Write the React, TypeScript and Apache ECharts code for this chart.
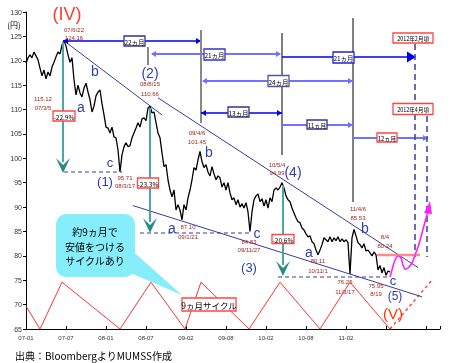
import React, { useEffect, useRef } from "react";
import * as echarts from "echarts";

// x axis: sample index (each tick = 20 samples); labels
const xTickLabels = ["07-01", "07-07", "08-01", "08-07", "09-02", "09-08", "10-02", "10-08", "11-02", "", ""];

const priceUSDJPY = [
  119.5, 120.6, 121.2, 120.6, 121.8, 121.0, 120.2, 118.5, 116.9, 118.1,
  116.3, 117.7, 116.9, 118.7, 119.7, 120.8, 121.8, 121.4, 123.2, 124.2,
  123.0, 121.2, 119.7, 120.6, 116.1, 113.0, 115.0, 113.4, 112.6, 114.4,
  115.4, 113.6, 112.0, 109.5, 110.7, 112.8, 113.6, 114.0, 111.2, 108.9,
  106.4, 106.2, 105.2, 106.4, 104.4, 104.2, 101.7, 97.2, 100.7, 102.4,
  103.2, 102.4, 102.6, 104.2, 105.2, 106.2, 107.3, 106.4, 108.1, 108.3,
  107.7, 110.3, 110.7, 109.3, 109.5, 107.3, 105.2, 104.2, 101.1, 98.3,
  98.7, 95.6, 93.5, 92.1, 93.5, 89.4, 90.5, 89.4, 87.4, 90.5,
  89.4, 91.9, 93.5, 95.6, 98.1, 97.6, 99.7, 101.4, 99.3, 98.1,
  98.7, 97.2, 96.4, 98.3, 96.8, 95.6, 96.4, 96.0, 94.1, 95.0,
  93.5, 95.0, 92.9, 91.5, 91.9, 90.5, 91.5, 90.0, 90.7, 89.8,
  90.9, 89.0, 85.0, 89.0, 91.5, 92.3, 92.7, 91.1, 91.7, 90.2,
  91.5, 89.8, 91.9, 91.1, 93.5, 93.9, 93.5, 94.1, 95.0, 93.9,
  92.3, 91.5, 91.1, 89.8, 88.8, 87.8, 87.0, 86.8, 85.7, 85.3,
  84.5, 83.9, 84.1, 82.9, 82.5, 81.2, 80.2, 81.2, 82.3, 83.7,
  83.3, 82.9, 83.9, 82.9, 83.7, 83.1, 83.9, 82.9, 83.5, 82.9,
  83.3, 82.7, 76.3, 83.7, 85.4, 84.1, 82.7, 82.3, 81.6, 82.5,
  81.0, 81.2, 80.6, 80.0, 80.8, 80.2, 77.1, 78.0, 76.5, 77.6,
  76.0, 76.9, 76.7,
];

// 9ヵ月サイクル (red zigzag)
const cycleT = [0, 7, 18, 47, 62.5, 79.5, 87.5, 111.5, 127, 147, 162, 182];
const cycleV = [69.7, 65, 74.6, 65, 74.6, 65, 74.6, 65, 74.6, 65, 74.6, 65];
const cycleProjT = [182, 203];
const cycleProjV = [65, 75];

// trend / channel lines
const trend1T = [19, 68];
const trend1V = [124.1, 108.9];
const trend2T = [66, 196];
const trend2V = [112.4, 77.6];
const trend3T = [53.5, 198];
const trend3V = [90.3, 71.6];

const Z = 50;
const FONT = "Arial, 'Liberation Sans', sans-serif";
const CJK = "'Noto Sans CJK JP', sans-serif";

const txt = (x: number, y: number, text: string, size: number, color: string, extra: any = {}) => ({
  type: "text",
  x,
  y,
  z: Z + 2,
  style: { text, fontSize: size, fill: color, align: "center", verticalAlign: "middle", fontFamily: FONT, ...extra },
});
const lab = (x: number, y: number, t: string) => txt(x, y, t, 6, "#a0281e");
const wave = (x: number, y: number, t: string, size = 14) => txt(x, y, t, size, "#3040aa");
const ln = (x1: number, y1: number, x2: number, y2: number, color: string, w = 1, dash?: number[]) => ({
  type: "line",
  z: Z,
  shape: { x1, y1, x2, y2 },
  style: { stroke: color, lineWidth: w, lineDash: dash },
});
const poly = (points: number[][], color: string) => ({ type: "polygon", z: Z, shape: { points }, style: { fill: color } });
const rHead = (x: number, y: number, color: string, s = 5) => poly([[x, y], [x - s, y - s * 0.6], [x - s, y + s * 0.6]], color);
const lHead = (x: number, y: number, color: string, s = 5) => poly([[x, y], [x + s, y - s * 0.6], [x + s, y + s * 0.6]], color);
const chevron = (x: number, tip: number, color: string) =>
  poly([[x - 7, tip - 15], [x, tip - 8], [x + 7, tip - 15], [x, tip]], color);
const box = (cx: number, cy: number, w: number, h: number, t: string, border: string, size = 6) => [
  {
    type: "rect",
    z: Z + 1,
    shape: { x: cx - w / 2, y: cy - h / 2, width: w, height: h },
    style: { fill: "#fff", stroke: border, lineWidth: 1.3 },
  },
  txt(cx, cy + 0.5, t, size, "#000", { fontFamily: CJK }),
];

const DARK = "#0000ee";
const LIGHT = "#7272ff";
const NAVY = "#3a3a9e";
const TEAL = "#4aa8a4";
const TEAL_D = "#2a8a86";
const RED = "#ff4545";

export default function App() {
  const ref = useRef<HTMLDivElement>(null);
  useEffect(() => {
    if (!ref.current) return;
    const chart = echarts.init(ref.current, undefined, { renderer: "svg" });

    const graphic: any[] = [
      txt(14, 24, "(円)", 8, "#000", { fontFamily: CJK }),
      txt(67, 14, "(IV)", 18, "#ff3b2f"),
      // measurement lines
      ln(63, 41, 200, 41, DARK, 1.5),
      lHead(63, 41, DARK),
      rHead(201, 41, DARK),
      ln(201, 30, 201, 123, "#888", 2),
      ln(148, 47, 148, 65, "#888", 2),
      ln(282, 33, 282, 155, "#000", 1),
      ln(353, 18, 353, 202, "#000", 1),
      ln(152, 54, 280, 54, LIGHT, 2),
      lHead(151, 54, LIGHT),
      rHead(281, 54, LIGHT),
      ln(282, 57, 408, 57, DARK, 1.5),
      rHead(416, 57, DARK, 9),
      ln(203, 81, 353, 81, LIGHT, 2),
      lHead(202, 81, LIGHT),
      rHead(353, 81, LIGHT),
      ln(201, 113, 282, 113, DARK, 1.5),
      lHead(201, 113, DARK),
      rHead(282, 113, DARK),
      ln(282, 125, 353, 125, LIGHT, 2),
      rHead(353, 125, LIGHT),
      ln(353, 138, 427, 138, LIGHT, 2),
      rHead(428, 138, LIGHT),
      ln(415, 44, 415, 257, NAVY, 1.5, [6, 4]),
      ln(427, 116, 427, 257, NAVY, 1.5, [6, 4]),
      ...box(134.5, 41, 21, 10, "22ヵ月", "#33338a", 6.5),
      ...box(214.5, 54.5, 21, 11, "21ヵ月", "#3333cc", 6.5),
      ...box(278.5, 81, 21, 11, "24ヵ月", "#55559f", 6.5),
      ...box(238.5, 112, 21, 10, "13ヵ月", "#33338a", 6.5),
      ...box(343.5, 57.5, 21, 11, "21ヵ月", "#2222dd", 6.5),
      ...box(317, 124.5, 20, 9, "11ヵ月", "#33338a"),
      ...box(387, 137.5, 20, 9, "12ヵ月", RED),
      ...box(413, 38, 40, 10, "2012年2月頃", RED, 5.5),
      ...box(413, 109, 40, 11, "2012年4月頃", RED, 5.5),
      // teal drop arrows
      ln(63, 42, 63, 162, TEAL, 2),
      chevron(63, 173, TEAL_D),
      ln(150, 108, 150, 222, TEAL, 2),
      chevron(150, 233, TEAL_D),
      ln(283, 185, 283, 265, TEAL, 2),
      chevron(283, 276, TEAL_D),
      ln(64, 172, 122, 172, NAVY, 1.2, [4, 3]),
      ln(140, 233, 250, 233, NAVY, 1.2, [4, 3]),
      ln(278, 277, 390, 277, NAVY, 1.2, [4, 3]),
      ...box(64, 116, 22, 10, "-22.9%", RED, 6.5),
      ...box(148, 183, 21, 10, "-23.3%", RED, 6.5),
      ...box(283, 239, 22, 9, "-20.6%", RED, 6.5),
      // pink target line and magenta path
      ln(377, 255, 420, 255, "#ff8a8a", 2.5),
      {
        type: "polyline",
        z: Z,
        shape: {
          points: [[390, 277], [392, 270], [395, 260], [398, 256], [401, 258], [403, 265], [405, 269], [408, 268], [412, 263], [415, 255], [418, 247], [422, 233], [425, 222], [428, 211]],
          smooth: 0.3,
        },
        style: { stroke: "#ff22ff", lineWidth: 1.6, fill: "none" },
      },
      poly([[430, 201], [424, 213], [432, 214]], "#ff22ff"),
      // callout
      {
        type: "polygon",
        z: Z,
        shape: { points: [[128, 247], [182, 295], [128, 272]] },
        style: { fill: "#86eefa" },
      },
      {
        type: "rect",
        z: Z,
        shape: { x: 56, y: 214, width: 79, height: 63, r: 10 },
        style: { fill: "#86eefa" },
      },
      txt(95, 246, "約9ヵ月で\n安値をつける\nサイクルあり", 10, "#000", { fontFamily: CJK, lineHeight: 14.6 }),
      ...box(209, 304.5, 54, 13, "9ヵ月サイクル", RED, 8.5),
      // turning-point labels
      lab(74, 30, "07/6/22"),
      lab(74, 38, "124.16"),
      lab(43, 99, "115.12"),
      lab(43, 108, "07/3/5"),
      wave(81, 107, "a"),
      wave(95, 71, "b"),
      wave(110, 162, "c", 13),
      wave(105, 181, "(1)", 13),
      lab(125, 178, "95.71"),
      lab(125, 186, "08/3/17"),
      wave(150, 73, "(2)"),
      lab(150, 84, "08/8/15"),
      lab(150, 94, "110.66"),
      lab(197, 133, "09/4/6"),
      lab(197, 142, "101.45"),
      wave(209, 152, "b"),
      wave(172, 228, "a"),
      lab(188, 227, "87.10"),
      lab(188, 237, "09/1/21"),
      wave(257, 233, "c"),
      lab(249, 242, "84.83"),
      lab(249, 250, "09/11/27"),
      wave(249, 267, "(3)", 13),
      lab(277, 165, "10/5/4"),
      lab(277, 173, "94.99"),
      wave(293, 172, "(4)"),
      wave(309, 252, "a"),
      lab(318, 261, "80.11"),
      lab(318, 271, "10/11/1"),
      lab(358, 209, "11/4/6"),
      lab(358, 218, "85.53"),
      wave(365, 228, "b"),
      lab(385, 237, "8/4"),
      lab(385, 246, "80.24"),
      lab(345, 282, "76.25"),
      lab(345, 292, "11/3/17"),
      lab(376, 286, "75.95"),
      lab(376, 294, "8/19"),
      wave(393, 280, "c", 13),
      wave(395, 296, "(5)", 12),
      txt(393, 313, "(V)", 15, "#ff3300"),
      // source
      {
        type: "text",
        z: Z,
        x: 15,
        y: 355,
        style: { text: "出典：BloombergよりMUMSS作成", fontSize: 10, fill: "#000", align: "left", verticalAlign: "middle", fontFamily: CJK },
      },
    ];

    const pairs = (t: number[], v: number[]) => t.map((x, i) => [x, v[i]]);

    chart.setOption({
      animation: false,
      grid: { left: 26, right: 22, top: 12, bottom: 34 },
      xAxis: {
        type: "value",
        min: 0,
        max: 207,
        interval: 20,
        axisLine: { lineStyle: { color: "#000", width: 1 } },
        axisTick: { inside: true, length: 3, lineStyle: { color: "#000" } },
        splitLine: { show: false },
        axisLabel: {
          fontSize: 6,
          color: "#333",
          margin: 6,
          fontFamily: FONT,
          formatter: (v: number) => (v % 20 === 0 ? xTickLabels[v / 20] ?? "" : ""),
        },
      },
      yAxis: {
        type: "value",
        min: 65,
        max: 130,
        interval: 5,
        axisLine: { show: true, lineStyle: { color: "#000", width: 1 } },
        axisTick: { show: true, length: 3, lineStyle: { color: "#000" } },
        splitLine: { show: false },
        axisLabel: { fontSize: 7, color: "#333", margin: 4, fontFamily: FONT },
      },
      series: [
        {
          type: "line",
          data: priceUSDJPY.map((v, i) => [i, v]),
          symbol: "none",
          lineStyle: { color: "#000", width: 1.3 },
          z: 3,
        },
        {
          type: "line",
          data: pairs(cycleT, cycleV),
          symbol: "none",
          lineStyle: { color: "#ff3333", width: 1 },
          z: 2,
        },
        {
          type: "line",
          data: pairs(cycleProjT, cycleProjV),
          symbol: "none",
          lineStyle: { color: "#ff3333", width: 1.3, type: [3, 3] },
          z: 2,
        },
        { type: "line", data: pairs(trend1T, trend1V), symbol: "none", lineStyle: { color: NAVY, width: 1 }, z: 2 },
        { type: "line", data: pairs(trend2T, trend2V), symbol: "none", lineStyle: { color: NAVY, width: 1 }, z: 2 },
        { type: "line", data: pairs(trend3T, trend3V), symbol: "none", lineStyle: { color: NAVY, width: 1 }, z: 2 },
      ],
      graphic,
    });
    return () => chart.dispose();
  }, []);
  return <div ref={ref} style={{ position: "fixed", left: 0, top: 0, width: 462, height: 363 }} />;
}
